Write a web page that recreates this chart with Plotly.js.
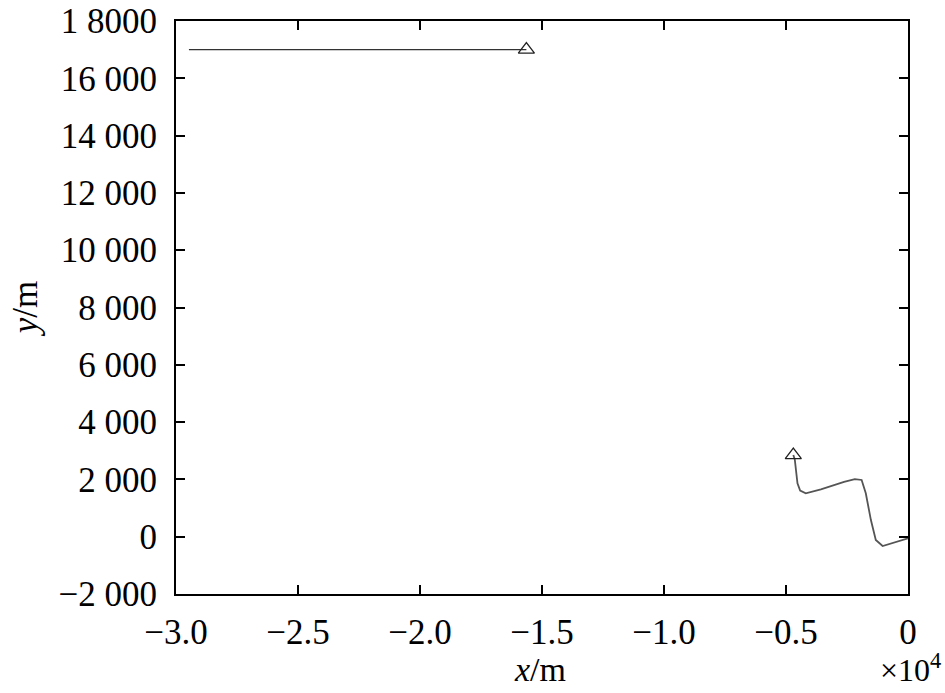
<!DOCTYPE html>
<html>
<head>
<meta charset="utf-8">
<script src="https://cdn.plot.ly/plotly-3.0.1.min.js"></script>
<style>
  html, body { margin: 0; padding: 0; background: #fff; }
  #chart { width: 945px; height: 693px; }
</style>
</head>
<body>
<div id="chart"></div>
<script>
// ---------- data (metres) ----------
const trackAX = [-29470, -15640];
const trackAY = [17000, 17000];

const trackBX = [-4700, -4640, -4530, -4420, -4190, -3570, -2620, -2180, -1900, -1730, -1520, -1320, -1040, -570, -90, 0];
const trackBY = [2850, 2700, 1860, 1610, 1515, 1650, 1910, 2010, 1980, 1515, 580, -115, -325, -210, -90, -60];

const xTickVals = [-30000, -25000, -20000, -15000, -10000, -5000, 0];
const xTickText = ["\u22123.0", "\u22122.5", "\u22122.0", "\u22121.5", "\u22121.0", "\u22120.5", "0"];

const yTickVals = [18000, 16000, 14000, 12000, 10000, 8000, 6000, 4000, 2000, 0, -2000];
const yTickText = ["1 8000", "16 000", "14 000", "12 000", "10 000", "8 000", "6 000", "4 000", "2 000", "0", "\u22122 000"];

// ---------- traces ----------
const lineA = {
  x: trackAX, y: trackAY,
  mode: "lines", type: "scatter",
  line: { color: "#333333", width: 1.2 },
  hoverinfo: "skip"
};

const lineB = {
  x: trackBX, y: trackBY,
  mode: "lines", type: "scatter",
  line: { color: "#555555", width: 1.8 },
  hoverinfo: "skip"
};

// end markers: last point of track A, first point of track B
const marks = {
  x: [trackAX[trackAX.length - 1], trackBX[0]],
  y: [trackAY[trackAY.length - 1], trackBY[0]],
  mode: "markers", type: "scatter",
  marker: { symbol: "triangle-up-open", size: 14, color: "#222", line: { width: 1.3 } },
  hoverinfo: "skip"
};

const serif = "Liberation Serif, Times New Roman, serif";

const axisCommon = {
  showgrid: false,
  zeroline: false,
  showline: true,
  linecolor: "#000",
  linewidth: 2,
  mirror: "allticks",
  ticks: "inside",
  ticklen: 9,
  tickwidth: 2,
  tickcolor: "#000",
  tickfont: { family: serif, size: 35, color: "#000" },
  tickmode: "array"
};

const layout = {
  width: 945,
  height: 693,
  margin: { l: 176, r: 37, t: 21, b: 99 },
  paper_bgcolor: "#fff",
  plot_bgcolor: "#fff",
  showlegend: false,
  font: { family: serif, color: "#000" },
  xaxis: Object.assign({}, axisCommon, {
    range: [-30000, 0],
    tickvals: xTickVals,
    ticktext: xTickText,
    ticklabelstandoff: 6
  }),
  yaxis: Object.assign({}, axisCommon, {
    range: [-2000, 18000],
    tickvals: yTickVals,
    ticktext: yTickText,
    ticklabelstandoff: 10
  }),
  annotations: [
    {
      text: "<i>x</i>/m", xref: "paper", yref: "paper",
      x: 0.497, y: -0.132, xanchor: "center", yanchor: "middle",
      showarrow: false, font: { family: serif, size: 34 }
    },
    {
      text: "<i>y</i>/m", xref: "paper", yref: "paper",
      x: -0.206, y: 0.499, xanchor: "center", yanchor: "middle",
      textangle: -90, showarrow: false, font: { family: serif, size: 35 }
    },
    {
      text: "\u00d710<sup>4</sup>", xref: "paper", yref: "paper",
      x: 1.048, y: -0.13, xanchor: "right", yanchor: "middle",
      showarrow: false, font: { family: serif, size: 32 }
    }
  ]
};

Plotly.newPlot("chart", [lineA, lineB, marks], layout, { staticPlot: true });
</script>
</body>
</html>
